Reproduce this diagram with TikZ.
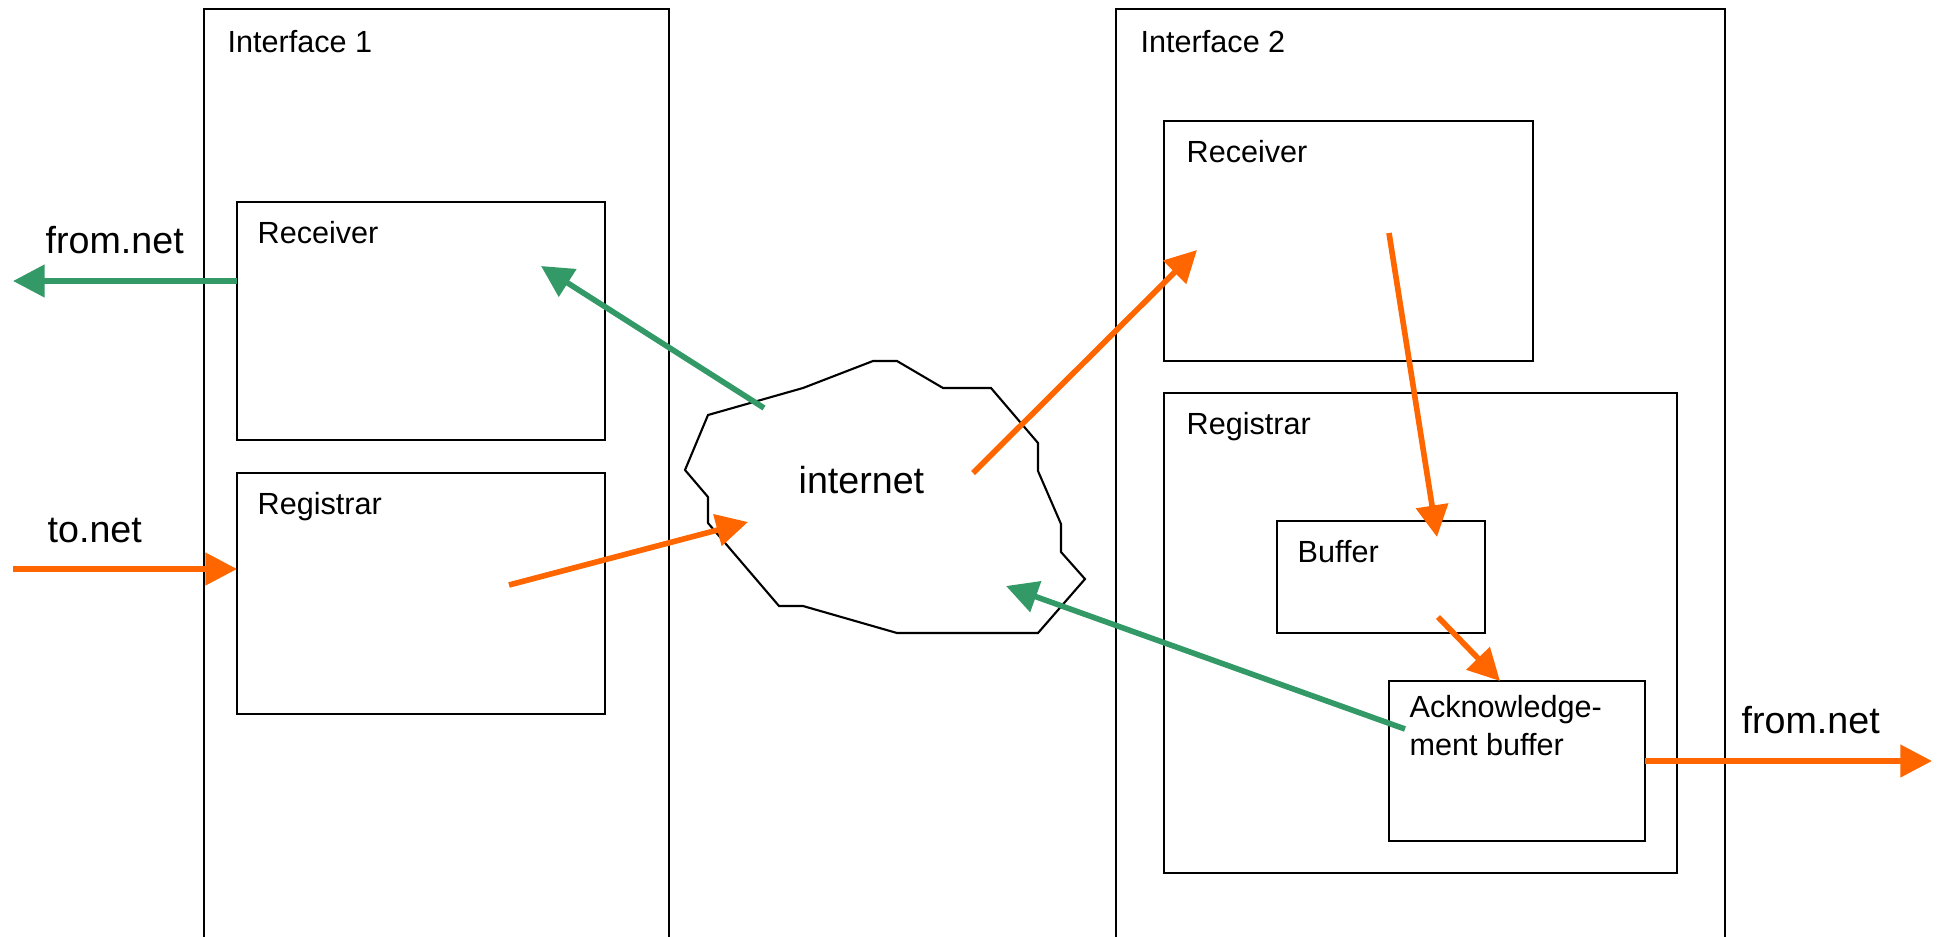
\documentclass[tikz,border=0pt]{standalone}
\usepackage{fontspec}
\setmainfont{Liberation Sans}
\usetikzlibrary{arrows.meta,calc}

\definecolor{netgreen}{RGB}{51,153,102}
\definecolor{netorange}{RGB}{255,102,0}

\begin{document}
\begin{tikzpicture}[
  x=0.01cm, y=-0.01cm,
  % Node Styles
  box/.style={draw, line width=0.6pt, anchor=north west, inner sep=0pt, outer sep=0pt},
  % Line Styles
  sig/.style={-{Triangle[length=9pt,width=9pt]}, line width=1.6pt},
  grn/.style={sig, netgreen},
  org/.style={sig, netorange},
  % Label Styles
  lbl/.style={anchor=base west, inner sep=0pt, font=\fontsize{8.7}{10.8}\selectfont},
  big/.style={anchor=base west, inner sep=0pt, font=\fontsize{10.7}{13}\selectfont}
]
\useasboundingbox (0,0) rectangle (1939,936);

% ================= BOXES =================

% --- Interfaces ---
\node[box, minimum width=4.65cm, minimum height=9.4cm] (if1) at (204,9) {};
\node[box, minimum width=6.09cm, minimum height=9.4cm] (if2) at (1116,9) {};

% --- Interface 1 parts ---
\node[box, minimum width=3.68cm, minimum height=2.38cm] (rx1) at (237,202) {};
\node[box, minimum width=3.68cm, minimum height=2.41cm] (rg1) at (237,473) {};

% --- Interface 2 parts ---
\node[box, minimum width=3.69cm, minimum height=2.40cm] (rx2) at (1164,121) {};
\node[box, minimum width=5.13cm, minimum height=4.80cm] (rg2) at (1164,393) {};
\node[box, minimum width=2.08cm, minimum height=1.12cm] (buf) at (1277,521) {};
\node[box, minimum width=2.56cm, minimum height=1.60cm] (ack) at (1389,681) {};

% --- Box titles ---
\node[lbl] (if1lbl) at ($(if1.north west)+(23,43)$) {Interface 1};
\node[lbl] (if2lbl) at ($(if2.north west)+(24,43)$) {Interface 2};
\node[lbl] (rx1lbl) at ($(rx1.north west)+(20,41)$) {Receiver};
\node[lbl] (rg1lbl) at ($(rg1.north west)+(20,41)$) {Registrar};
\node[lbl] (rx2lbl) at ($(rx2.north west)+(22,41)$) {Receiver};
\node[lbl] (rg2lbl) at ($(rg2.north west)+(22,41)$) {Registrar};
\node[lbl] (buflbl) at ($(buf.north west)+(20,41)$) {Buffer};
\node[lbl, anchor=north west, align=left] (acklbl) at ($(ack.north west)+(20,14)$) {Acknowledge-\\ment buffer};

% --- Internet cloud ---
\draw[line width=0.6pt, fill=white] (708,415) -- (803,388) -- (873,361) -- (897,361) -- (943,388)
  -- (991,388) -- (1038,443) -- (1038,471) -- (1061,524) -- (1061,552) -- (1085,579)
  -- (1038,633) -- (897,633) -- (803,606) -- (779,606) -- (708,523) -- (708,497)
  -- (685,470) -- cycle;
\node[big] (net) at (798,493) {internet};

% --- Outside labels ---
\node[big] (fromLlbl) at (45,253) {from.net};
\node[big] (toLlbl) at (47,542) {to.net};
\node[big] (fromRlbl) at (1741,733) {from.net};

% ================= CONNECTIONS =================

\coordinate (fromL) at (13,281);
\coordinate (toL) at (13,569);
\coordinate (rx1in) at (541,266);
\coordinate (netout1) at (764,408);
\coordinate (rg1out) at (509,585);
\coordinate (netin1) at (748,522);
\coordinate (netout2) at (973,473);
\coordinate (rx2in) at (1197,250);
\coordinate (rx2out) at (1389,233);
\coordinate (bufin) at (1437,537);
\coordinate (bufout) at (1438,617);
\coordinate (ackin) at (1500,681);
\coordinate (ackout) at (1405,729);
\coordinate (netin2) at (1006,586);
\coordinate (fromR) at (1932,761);

% 1. Interface 1
\draw[grn] (fromL -| rx1.west) -- (fromL);
\draw[org] (toL) -- (toL -| rg1.west);
\draw[grn] (netout1) -- (rx1in);
\draw[org] (rg1out) -- (netin1);

% 2. Interface 2
\draw[org] (netout2) -- (rx2in);
\draw[org] (rx2out) -- (bufin);
\draw[org] (bufout) -- (ackin);
\draw[grn] (ackout) -- (netin2);
\draw[org] (ack.east) -- (fromR);

\end{tikzpicture}
\end{document}
